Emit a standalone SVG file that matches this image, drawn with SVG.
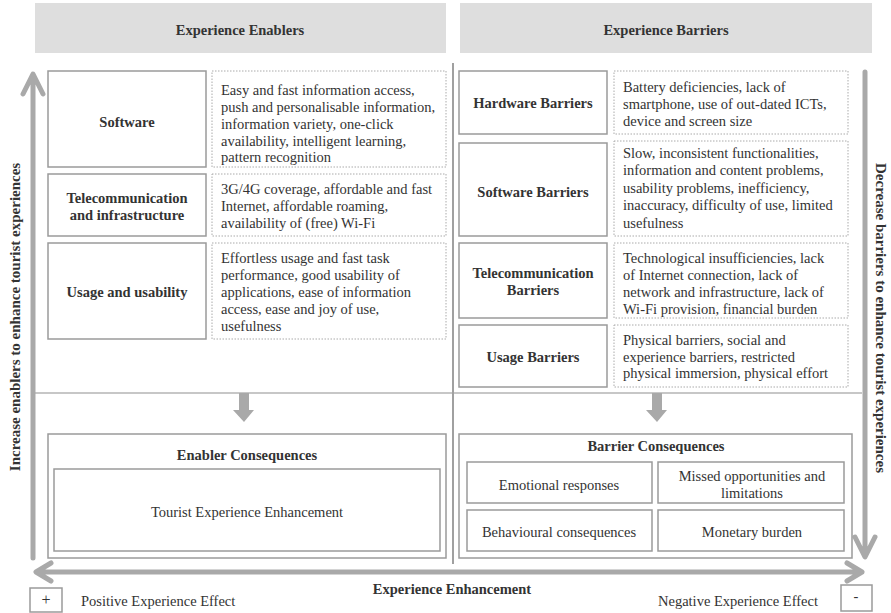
<svg xmlns="http://www.w3.org/2000/svg" width="891" height="613" viewBox="0 0 891 613">
<style>
text{font-family:"Liberation Serif","Times New Roman",serif;fill:#333;}
.b{font-weight:bold;font-size:14.5px;}
.t{font-size:14.5px;}
.v{font-weight:bold;font-size:15px;}
.c{text-anchor:middle;}
.hdr{fill:#dedede;stroke:none;}
.box{fill:#fff;stroke:#9a9a9a;stroke-width:1.5;}
.dot{fill:#fff;stroke:#aaa;stroke-width:1;stroke-dasharray:1.5 1.5;}
.arr{fill:none;stroke:#a9a9a9;stroke-width:5;stroke-linecap:round;stroke-linejoin:round;}
.line{stroke:#b5b5b5;stroke-width:1.5;fill:none;}
.blk{fill:#a9a9a9;stroke:none;}
</style>
<rect width="891" height="613" fill="#fff"/>

<g id="header-enablers">
<rect class="hdr" x="35" y="3" width="411" height="50"/>
<text class="b c" x="240" y="35">Experience Enablers</text>
</g>
<g id="header-barriers">
<rect class="hdr" x="460" y="3" width="412" height="50"/>
<text class="b c" x="666" y="35">Experience Barriers</text>
</g>

<g id="connectors">
<line class="line" x1="35" y1="393" x2="862" y2="393"/>
<line x1="453" y1="63" x2="453" y2="564" stroke="#a0a0a0" stroke-width="2"/>
<path class="arr" d="M33 558 V75 M23 94 L33 74 L43 94"/>
<path class="arr" d="M865 72 V556 M855 537 L865 557 L875 537"/>
<path class="arr" d="M37 572 H862 M51 563 L36 572 L51 581 M847 563 L862 572 L847 581"/>
<path class="blk" d="M239 393 H249 V410 H254 L244 422 L233 410 H239 Z"/>
<path class="blk" d="M652 393 H662 V410 H667 L657 422 L646 410 H652 Z"/>
</g>

<g id="software">
<rect class="box" x="48" y="71" width="158" height="96"/>
<text class="b c" x="127" y="127">Software</text>
<rect class="dot" x="212" y="71" width="234" height="96"/>
<text class="t" x="221"><tspan x="221" y="95">Easy and fast information access,</tspan><tspan x="221" y="112">push and personalisable information,</tspan><tspan x="221" y="129">information variety, one-click</tspan><tspan x="221" y="146">availability, intelligent learning,</tspan><tspan x="221" y="162">pattern recognition</tspan></text>
</g>

<g id="telecom-infra">
<rect class="box" x="48" y="174" width="158" height="62"/>
<text class="b c" x="127"><tspan x="127" y="203">Telecommunication</tspan><tspan x="127" y="220">and infrastructure</tspan></text>
<rect class="dot" x="212" y="174" width="234" height="62"/>
<text class="t"><tspan x="221" y="194">3G/4G coverage, affordable and fast</tspan><tspan x="221" y="211">Internet, affordable roaming,</tspan><tspan x="221" y="228">availability of (free) Wi-Fi</tspan></text>
</g>

<g id="usage-usability">
<rect class="box" x="48" y="243" width="158" height="96"/>
<text class="b c" x="127" y="297">Usage and usability</text>
<rect class="dot" x="212" y="243" width="234" height="96"/>
<text class="t"><tspan x="221" y="263">Effortless usage and fast task</tspan><tspan x="221" y="280">performance, good usability of</tspan><tspan x="221" y="297">applications, ease of information</tspan><tspan x="221" y="314">access, ease and joy of use,</tspan><tspan x="221" y="331">usefulness</tspan></text>
</g>

<g id="hardware-barriers">
<rect class="box" x="459" y="71" width="148" height="63"/>
<text class="b c" x="533" y="108">Hardware Barriers</text>
<rect class="dot" x="614" y="71" width="234" height="63"/>
<text class="t"><tspan x="623" y="92">Battery deficiencies, lack of</tspan><tspan x="623" y="109">smartphone, use of out-dated ICTs,</tspan><tspan x="623" y="126">device and screen size</tspan></text>
</g>

<g id="software-barriers">
<rect class="box" x="459" y="143" width="148" height="93"/>
<text class="b c" x="533" y="197">Software Barriers</text>
<rect class="dot" x="614" y="141" width="234" height="95"/>
<text class="t"><tspan x="623" y="158">Slow, inconsistent functionalities,</tspan><tspan x="623" y="175">information and content problems,</tspan><tspan x="623" y="193">usability problems, inefficiency,</tspan><tspan x="623" y="210">inaccuracy, difficulty of use, limited</tspan><tspan x="623" y="228">usefulness</tspan></text>
</g>

<g id="telecom-barriers">
<rect class="box" x="459" y="243" width="148" height="75"/>
<text class="b c" x="533"><tspan x="533" y="278">Telecommunication</tspan><tspan x="533" y="295">Barriers</tspan></text>
<rect class="dot" x="614" y="243" width="234" height="75"/>
<text class="t"><tspan x="623" y="263">Technological insufficiencies, lack</tspan><tspan x="623" y="280">of Internet connection, lack of</tspan><tspan x="623" y="297">network and infrastructure, lack of</tspan><tspan x="623" y="314">Wi-Fi provision, financial burden</tspan></text>
</g>

<g id="usage-barriers">
<rect class="box" x="459" y="325" width="148" height="62"/>
<text class="b c" x="533" y="362">Usage Barriers</text>
<rect class="dot" x="614" y="325" width="234" height="62"/>
<text class="t"><tspan x="623" y="345">Physical barriers, social and</tspan><tspan x="623" y="362">experience barriers, restricted</tspan><tspan x="623" y="378">physical immersion, physical effort</tspan></text>
</g>

<g id="enabler-consequences">
<rect class="box" x="48" y="434" width="398" height="124"/>
<text class="b c" x="247" y="460">Enabler Consequences</text>
<rect class="box" x="54" y="469" width="386" height="82"/>
<text class="t c" x="247" y="517">Tourist Experience Enhancement</text>
</g>

<g id="barrier-consequences">
<rect class="box" x="459" y="434" width="393" height="124"/>
<text class="b c" x="656" y="451">Barrier Consequences</text>
<g id="emotional">
<rect class="box" x="467" y="462" width="185" height="41"/>
<text class="t c" x="559" y="490">Emotional responses</text>
</g>
<g id="missed">
<rect class="box" x="658" y="462" width="186" height="41"/>
<text class="t c" x="752"><tspan x="752" y="481">Missed opportunities and</tspan><tspan x="752" y="498">limitations</tspan></text>
</g>
<g id="behavioural">
<rect class="box" x="467" y="510" width="185" height="41"/>
<text class="t c" x="559" y="537">Behavioural consequences</text>
</g>
<g id="monetary">
<rect class="box" x="658" y="510" width="186" height="41"/>
<text class="t c" x="752" y="537">Monetary burden</text>
</g>
</g>

<g id="axis-labels">
<text class="v c" transform="translate(20 317) rotate(-90)">Increase enablers to enhance tourist experiences</text>
<text class="v c" transform="translate(876 318) rotate(90)">Decrease barriers to enhance tourist experiences</text>
<text class="b c" x="452" y="594">Experience Enhancement</text>
</g>

<g id="legend-positive">
<rect class="box" x="30" y="588" width="32" height="24"/>
<text class="t c" x="46" y="605" style="font-size:16px">+</text>
<text class="t" x="81" y="606">Positive Experience Effect</text>
</g>
<g id="legend-negative">
<rect class="box" x="841" y="585" width="31" height="26"/>
<text class="t c" x="856" y="601">-</text>
<text class="t" x="658" y="606">Negative Experience Effect</text>
</g>
</svg>
